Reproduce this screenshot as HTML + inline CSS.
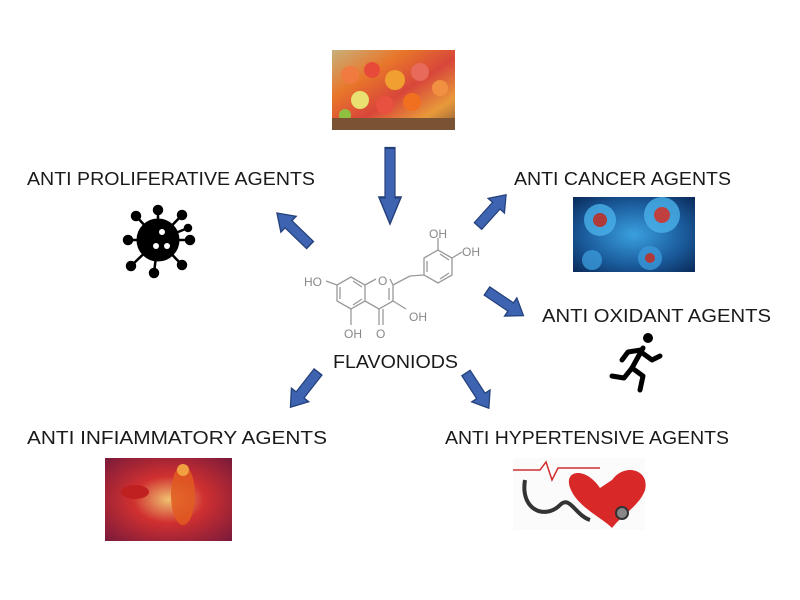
<!DOCTYPE html>
<html><head><meta charset="utf-8"><style>
html,body{margin:0;padding:0;background:#fff;}
svg{display:block;}
text{font-family:"Liberation Sans",sans-serif;fill:#1a1a1a;}
</style></head><body>
<svg width="800" height="600" viewBox="0 0 800 600" xmlns="http://www.w3.org/2000/svg">
<defs>
<linearGradient id="fruit" x1="0" y1="0" x2="1" y2="1">
<stop offset="0" stop-color="#c8b07a"/><stop offset=".3" stop-color="#e8762a"/><stop offset=".55" stop-color="#d8463a"/><stop offset=".8" stop-color="#e89a3a"/><stop offset="1" stop-color="#8a5a3a"/></linearGradient>
<radialGradient id="cell" cx=".5" cy=".5" r=".7"><stop offset="0" stop-color="#3aa0e0"/><stop offset=".6" stop-color="#1a5a9a"/><stop offset="1" stop-color="#0a2a5a"/></radialGradient>
<radialGradient id="infl" cx=".5" cy=".5" r=".7"><stop offset="0" stop-color="#f0c070"/><stop offset=".4" stop-color="#d03030"/><stop offset="1" stop-color="#7a1a3a"/></radialGradient>
<g id="arr"><polygon points="0,-5 26,-5 26,-11 40,0 26,11 26,5 0,5" fill="#3e63b0" stroke="#23407a" stroke-width="1.2"/></g>
</defs>

<!-- fruit image -->
<rect x="332" y="50" width="123" height="80" fill="url(#fruit)"/>
<circle cx="350" cy="75" r="9" fill="#f07a40"/><circle cx="372" cy="70" r="8" fill="#e84a3a"/><circle cx="395" cy="80" r="10" fill="#f0a030"/><circle cx="420" cy="72" r="9" fill="#e86a5a"/><circle cx="440" cy="88" r="8" fill="#f09040"/><circle cx="360" cy="100" r="9" fill="#e8e070"/><circle cx="385" cy="105" r="9" fill="#e85040"/><circle cx="412" cy="102" r="9" fill="#f07020"/><circle cx="345" cy="115" r="6" fill="#90c040"/>
<rect x="332" y="118" width="123" height="12" fill="#7a5234"/>

<!-- cancer image -->
<rect x="573" y="197" width="122" height="75" fill="url(#cell)"/>
<circle cx="600" cy="220" r="16" fill="#4ab0e8" opacity=".8"/><circle cx="600" cy="220" r="7" fill="#b03a3a"/>
<circle cx="662" cy="215" r="18" fill="#4ab0e8" opacity=".8"/><circle cx="662" cy="215" r="8" fill="#c04040"/>
<circle cx="650" cy="258" r="12" fill="#3a98d8" opacity=".8"/><circle cx="650" cy="258" r="5" fill="#b03a3a"/>
<circle cx="592" cy="260" r="10" fill="#3a98d8" opacity=".8"/>

<!-- inflammatory image -->
<rect x="105" y="458" width="127" height="83" fill="url(#infl)"/>
<ellipse cx="183" cy="495" rx="12" ry="30" fill="#e05a20" opacity=".85"/>
<circle cx="183" cy="470" r="6" fill="#f0a040"/>
<ellipse cx="135" cy="492" rx="14" ry="7" fill="#c02020"/>

<!-- heart / stethoscope image -->
<rect x="513" y="458" width="132" height="72" fill="#fbfbfb"/>
<polyline points="513,470 540,470 546,462 552,480 558,468 600,468" fill="none" stroke="#d03030" stroke-width="1.5"/>
<path d="M600,488 C585,465 560,470 572,492 C580,508 605,520 612,528 C622,515 640,505 645,490 C650,470 625,462 612,480 Z" fill="#d82828"/>
<path d="M525,480 C520,510 545,520 560,505 C570,495 575,515 590,520" fill="none" stroke="#333" stroke-width="4"/>
<circle cx="622" cy="513" r="6" fill="#888" stroke="#333" stroke-width="2"/>

<!-- arrows -->
<use href="#arr" transform="translate(390,148) rotate(90) scale(1.9,1)"/>
<use href="#arr" transform="translate(310,245) rotate(-136) scale(1.15,1)"/>
<use href="#arr" transform="translate(478,226) rotate(-48) scale(1.05,1)"/>
<use href="#arr" transform="translate(487,291) rotate(34) scale(1.1,1)"/>
<use href="#arr" transform="translate(318,372) rotate(128) scale(1.12,1)"/>
<use href="#arr" transform="translate(466,373) rotate(57) scale(1.05,1)"/>

<!-- virus icon -->
<g fill="#000" stroke="#000" stroke-width="3" stroke-linecap="round">
<circle cx="158" cy="240" r="20"/>
<g stroke-width="2.5">
<line x1="158" y1="240" x2="158" y2="210"/><circle cx="158" cy="210" r="4"/>
<line x1="158" y1="240" x2="182" y2="215"/><circle cx="182" cy="215" r="4"/>
<line x1="158" y1="240" x2="190" y2="240"/><circle cx="190" cy="240" r="4"/>
<line x1="158" y1="240" x2="182" y2="265"/><circle cx="182" cy="265" r="4"/>
<line x1="158" y1="240" x2="154" y2="273"/><circle cx="154" cy="273" r="4"/>
<line x1="158" y1="240" x2="131" y2="266"/><circle cx="131" cy="266" r="4"/>
<line x1="158" y1="240" x2="128" y2="240"/><circle cx="128" cy="240" r="4"/>
<line x1="158" y1="240" x2="136" y2="216"/><circle cx="136" cy="216" r="4"/>
<line x1="158" y1="240" x2="188" y2="228"/><circle cx="188" cy="228" r="3"/>
</g>
</g>
<circle cx="162" cy="232" r="3" fill="#fff"/><circle cx="156" cy="246" r="3" fill="#fff"/><circle cx="167" cy="246" r="3" fill="#fff"/>

<!-- runner icon -->
<g stroke="#000" stroke-width="5" stroke-linecap="round" stroke-linejoin="round" fill="none">
<circle cx="648" cy="338" r="5" fill="#000" stroke="none"/>
<polyline points="643,348 632,368"/>
<polyline points="641,350 628,352 622,360"/>
<polyline points="641,352 652,360 660,356"/>
<polyline points="632,368 643,376 640,390"/>
<polyline points="632,368 624,378 612,376"/>
</g>

<!-- molecule -->
<g stroke="#999" stroke-width="1.3" fill="none">
<polygon points="351,277 365,285 365,301 351,309 337,301 337,285"/>
<line x1="340" y1="287" x2="340" y2="299"/><line x1="353" y1="281" x2="362" y2="287"/><line x1="353" y1="305" x2="362" y2="299"/>
<polyline points="365,285 376,279"/><polyline points="390,279 393,285 393,301 379,309 365,301"/>
<line x1="389" y1="288" x2="389" y2="300"/>
<line x1="393" y1="285" x2="410" y2="276"/>
<polygon points="424,258 438,250 452,258 452,275 438,283 424,275"/>
<line x1="427" y1="261" x2="427" y2="272"/><line x1="440" y1="279" x2="449" y2="273"/><line x1="440" y1="254" x2="449" y2="260"/>
<line x1="410" y1="276" x2="424" y2="275"/>
<line x1="438" y1="250" x2="438" y2="238"/>
<line x1="452" y1="258" x2="462" y2="252"/>
<line x1="337" y1="285" x2="326" y2="281"/>
<line x1="351" y1="309" x2="351" y2="325"/>
<line x1="379" y1="309" x2="379" y2="325"/><line x1="383" y1="309" x2="383" y2="325"/>
<line x1="393" y1="301" x2="406" y2="309"/>
</g>
<g font-size="12" style="font-size:12px">
<text x="304" y="286" style="fill:#888">HO</text>
<text x="378" y="285" style="fill:#888">O</text>
<text x="429" y="238" style="fill:#888">OH</text>
<text x="462" y="256" style="fill:#888">OH</text>
<text x="409" y="321" style="fill:#888">OH</text>
<text x="344" y="338" style="fill:#888">OH</text>
<text x="376" y="338" style="fill:#888">O</text>
</g>

<!-- labels -->
<g style="font-size:18px">
<text x="27" y="185" textLength="288" lengthAdjust="spacingAndGlyphs">ANTI PROLIFERATIVE AGENTS</text>
<text x="514" y="185" textLength="217" lengthAdjust="spacingAndGlyphs">ANTI CANCER AGENTS</text>
<text x="542" y="322" textLength="229" lengthAdjust="spacingAndGlyphs">ANTI OXIDANT AGENTS</text>
<text x="333" y="368" textLength="125" lengthAdjust="spacingAndGlyphs">FLAVONIODS</text>
<text x="27" y="444" textLength="300" lengthAdjust="spacingAndGlyphs">ANTI INFIAMMATORY AGENTS</text>
<text x="445" y="444" textLength="284" lengthAdjust="spacingAndGlyphs">ANTI HYPERTENSIVE AGENTS</text>
</g>
</svg>
</body></html>
